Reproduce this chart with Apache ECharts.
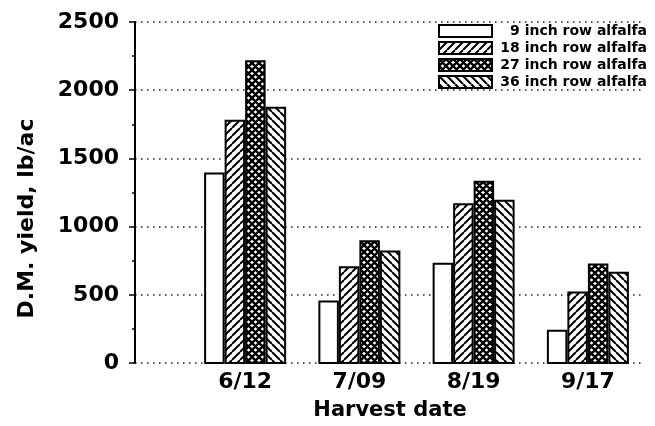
<!DOCTYPE html>
<html lang="en">
<head>
  <meta charset="UTF-8" />
  <script src="https://cdn.jsdelivr.net/npm/echarts@6/dist/echarts.min.js"></script>
  <title>D.M. yield by harvest date</title>
  <style>
    body { margin: 0; background: #fff; }
  </style>
</head>
<body>
  <div id="main" style="width: 655px; height: 426px;"></div>
  <script type="text/javascript">
    // harvest dates and row spacings
    var categories = ["6/12", "7/09", "8/19", "9/17"];
    var seriesNames = [
      "9 inch row alfalfa",
      "18 inch row alfalfa",
      "27 inch row alfalfa",
      "36 inch row alfalfa",
    ];
    // D.M. yield, lb/ac
    var row9 = [1400, 465, 740, 250];
    var row18 = [1785, 715, 1175, 530];
    var row27 = [2220, 905, 1340, 735];
    var row36 = [1880, 830, 1200, 675];
    var yTicks = [0, 500, 1000, 1500, 2000, 2500];

    var font = "DejaVu Sans";

    // hatch fills drawn on small canvases
    function makePattern(kind) {
      var s = kind == "cross" ? 7 : 8;
      var c = document.createElement("canvas");
      c.width = s;
      c.height = s;
      var ctx = c.getContext("2d");
      ctx.fillStyle = "#fff";
      ctx.fillRect(0, 0, s, s);
      if (kind == "none") return c;
      ctx.strokeStyle = "#000";
      ctx.lineWidth = kind == "cross" ? 2.4 : 2;
      ctx.beginPath();
      for (var k = -1; k <= 1; k++) {
        if (kind == "fwd" || kind == "cross") {
          // "/" lines
          ctx.moveTo(k * s, s);
          ctx.lineTo(k * s + s, 0);
        }
        if (kind == "back" || kind == "cross") {
          // "\" lines
          ctx.moveTo(k * s, 0);
          ctx.lineTo(k * s + s, s);
        }
      }
      ctx.stroke();
      return c;
    }

    var fills = ["none", "fwd", "cross", "back"];
    var values = [row9, row18, row27, row36];

    var series = seriesNames.map(function (name, i) {
      return {
        name: name,
        type: "bar",
        xAxisIndex: 1,
        yAxisIndex: 1,
        barWidth: 20.5,
        barGap: "0%",
        itemStyle: {
          color: { image: makePattern(fills[i]), repeat: "repeat" },
          borderColor: "#000",
          borderWidth: 2,
        },
        emphasis: { disabled: true },
        data: values[i],
      };
    });

    var myChart = echarts.init(document.getElementById("main"));
    myChart.setOption({
      animation: false,
      legend: {
        orient: "vertical",
        left: 433,
        top: 19,
        itemWidth: 53,
        itemHeight: 12,
        itemGap: 3,
        icon: "rect",
        data: seriesNames,
        formatter: function (name) {
          return "{t|" + name + "}";
        },
        textStyle: {
          rich: {
            t: {
              width: 150,
              align: "right",
              fontFamily: font,
              fontWeight: "bold",
              fontSize: 14,
              lineHeight: 13,
              color: "#000",
            },
          },
        },
      },
      grid: [
        // frame with gridlines and the y axis
        { left: 135, right: 10, top: 22, bottom: 62 },
        // bars
        { left: 188, right: 10, top: 22, bottom: 62 },
      ],
      xAxis: [
        {
          gridIndex: 0,
          type: "value",
          min: 0,
          max: 1,
          name: "Harvest date",
          nameLocation: "middle",
          nameGap: 37,
          nameTextStyle: {
            fontFamily: font,
            fontWeight: "bold",
            fontSize: 21,
            color: "#000",
          },
          axisLine: { show: false },
          axisTick: { show: false },
          axisLabel: { show: false },
          splitLine: { show: false },
        },
        {
          gridIndex: 1,
          type: "category",
          data: categories,
          axisLine: { show: false },
          axisTick: { show: false },
          axisLabel: {
            margin: 7,
            fontFamily: font,
            fontWeight: "bold",
            fontSize: 22,
            color: "#000",
          },
        },
      ],
      yAxis: [
        {
          gridIndex: 0,
          type: "value",
          min: yTicks[0],
          max: yTicks[yTicks.length - 1],
          interval: 500,
          name: "D.M. yield, lb/ac",
          nameLocation: "middle",
          nameRotate: 90,
          nameGap: 97,
          nameTextStyle: {
            fontFamily: font,
            fontWeight: "bold",
            fontSize: 22,
            color: "#000",
            padding: [0, 52, 0, 0],
          },
          axisLine: { show: true, lineStyle: { color: "#000", width: 2 } },
          axisTick: { show: true, length: 6, lineStyle: { color: "#000", width: 1.5 } },
          minorTick: { show: true, splitNumber: 2, length: 3, lineStyle: { color: "#000", width: 1.5 } },
          axisLabel: {
            margin: 16,
            fontFamily: font,
            fontWeight: "bold",
            fontSize: 22,
            color: "#000",
            formatter: function (v) {
              return String(v);
            },
          },
          splitLine: {
            show: true,
            lineStyle: { color: "#222", width: 1.5, type: [1.5, 4.5] },
          },
        },
        {
          gridIndex: 1,
          type: "value",
          min: 0,
          max: 2500,
          show: false,
        },
      ],
      series: series,
    });
  </script>
</body>
</html>
